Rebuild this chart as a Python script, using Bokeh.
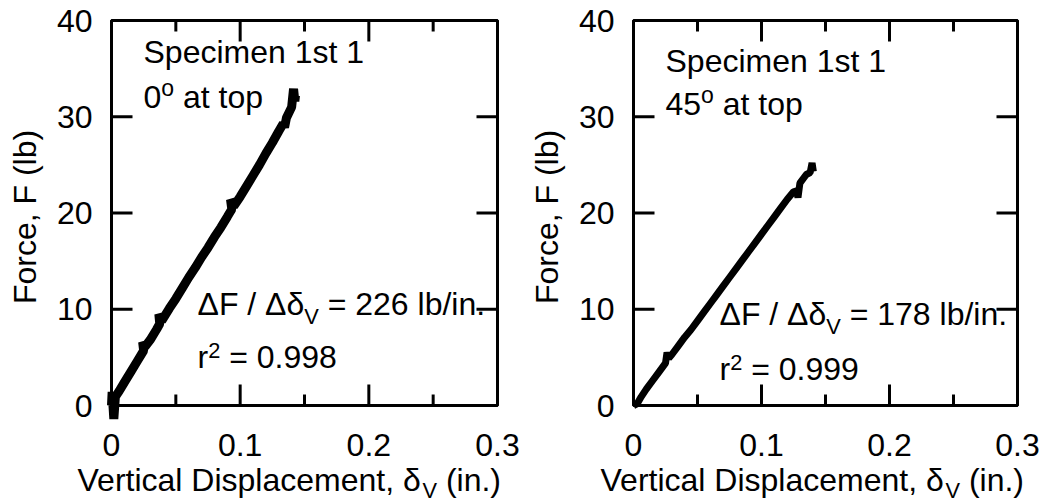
import math
from bokeh.plotting import figure
from bokeh.models import Range1d, Label
from bokeh.layouts import row
from bokeh.core.properties import value
from bokeh.embed import file_html
from bokeh.resources import INLINE

# ---------------- data ----------------
left_disp = [0.000, 0.0005, 0.0018, 0.003, 0.006, 0.010, 0.015, 0.020, 0.025, 0.0242,
             0.026, 0.030, 0.035, 0.0375, 0.0368, 0.039, 0.045, 0.050, 0.055, 0.060,
             0.065, 0.070, 0.075, 0.080, 0.085, 0.090, 0.0935, 0.0925, 0.095, 0.100,
             0.105, 0.110, 0.115, 0.120, 0.125, 0.130, 0.1335, 0.1345, 0.136, 0.140,
             0.1415, 0.1425, 0.1430]
left_force = [0.0, 1.4, -1.4, 0.9, 1.5, 2.4, 3.5, 4.6, 5.7, 6.6,
              6.1, 6.8, 7.9, 8.5, 9.5, 8.8, 10.1, 11.1, 12.2, 13.3,
              14.3, 15.4, 16.4, 17.5, 18.5, 19.6, 20.4, 21.4, 20.7, 21.7,
              22.8, 23.9, 25.0, 26.2, 27.3, 28.5, 29.3, 28.9, 29.9, 31.0,
              32.9, 31.6, 32.2]

right_disp = [0.000, 0.003, 0.006, 0.010, 0.015, 0.020, 0.025, 0.0262, 0.0275, 0.030,
              0.035, 0.040, 0.045, 0.050, 0.055, 0.060, 0.065, 0.070, 0.075, 0.080,
              0.085, 0.090, 0.095, 0.100, 0.105, 0.110, 0.115, 0.120, 0.125, 0.1275,
              0.1285, 0.130, 0.135, 0.138, 0.1395, 0.1405]
right_force = [0.0, 0.2, 0.9, 1.7, 2.6, 3.5, 4.4, 5.5, 4.9, 5.3,
               6.2, 7.1, 7.9, 8.8, 9.7, 10.6, 11.5, 12.4, 13.3, 14.2,
               15.1, 16.0, 16.9, 17.8, 18.7, 19.6, 20.5, 21.4, 22.2, 22.3,
               21.6, 23.1, 24.0, 24.2, 25.2, 24.3]

x_ticks = [0, 0.1, 0.2, 0.3]
x_tick_labels = ["0", "0.1", "0.2", "0.3"]
x_minor_ticks = [0.05, 0.15, 0.25]
y_ticks = [0, 10, 20, 30, 40]
y_tick_labels = ["0", "10", "20", "30", "40"]

x_label = ["Vertical Displacement, δ", "V", " (in.)"]
y_label = "Force, F (lb)"
left_texts = ["Specimen 1st 1", "0", "226", "0.998"]
right_texts = ["Specimen 1st 1", "45", "178", "0.999"]

FONT = "Liberation Sans"
FS = 32

# Arial / Liberation Sans advance widths (per 1000 em)
W = {' ': 278, '(': 333, ')': 333, ',': 278, '.': 278, '/': 278, '=': 584,
     'D': 722, 'F': 611, 'S': 667, 'V': 667, 'a': 556, 'b': 556, 'c': 500,
     'e': 556, 'i': 222, 'l': 222, 'm': 833, 'n': 556, 'o': 556, 'p': 556,
     'r': 333, 's': 500, 't': 278, 'Δ': 668, 'δ': 556}
for d in "0123456789":
    W[d] = 556


def text_width(s, size):
    return sum(W.get(c, 556) for c in s) * size / 1000.0


def make_fig(disp, force, bl, fw, br, texts, lw, pos, xlab_dx):
    bt, bb = 20, 99
    fh = 385
    xmin, xmax = x_ticks[0], x_ticks[-1]
    ymin, ymax = y_ticks[0], y_ticks[-1]
    sx = fw / (xmax - xmin)
    sy = fh / (ymax - ymin)
    p = figure(width=bl + fw + br, height=bt + fh + bb, output_backend="svg",
               toolbar_location=None, title=None,
               x_range=Range1d(xmin - bl / sx, xmax + br / sx),
               y_range=Range1d(ymin - bb / sy, ymax + bt / sy),
               x_axis_location=None, y_axis_location=None,
               min_border=0)
    p.xgrid.visible = False
    p.ygrid.visible = False
    p.outline_line_color = None
    p.background_fill_color = "white"
    p.border_fill_color = "white"

    X = lambda px: xmin + px / sx          # px from frame left
    Y = lambda px: ymax - px / sy          # px from frame top

    # ticks (inward, all four sides)
    maj, mnr = 21, 11
    nx, nm, ny = len(x_ticks), len(x_minor_ticks), len(y_ticks)
    p.segment(x0=x_ticks, x1=x_ticks, y0=[ymin] * nx, y1=[ymin + maj / sy] * nx,
              line_color="black", line_width=3)
    p.segment(x0=x_ticks, x1=x_ticks, y0=[ymax] * nx, y1=[ymax - maj / sy] * nx,
              line_color="black", line_width=3)
    p.segment(x0=x_minor_ticks, x1=x_minor_ticks, y0=[ymin] * nm, y1=[ymin + mnr / sy] * nm,
              line_color="black", line_width=3)
    p.segment(x0=x_minor_ticks, x1=x_minor_ticks, y0=[ymax] * nm, y1=[ymax - mnr / sy] * nm,
              line_color="black", line_width=3)
    p.segment(x0=[xmin] * ny, x1=[xmin + maj / sx] * ny, y0=y_ticks, y1=y_ticks,
              line_color="black", line_width=3)
    p.segment(x0=[xmax] * ny, x1=[xmax - maj / sx] * ny, y0=y_ticks, y1=y_ticks,
              line_color="black", line_width=3)
    # frame
    p.quad(left=[xmin], right=[xmax], bottom=[ymin], top=[ymax],
           fill_color=None, line_color="black", line_width=3)

    # tick labels
    p.text(x=x_ticks, y=[Y(fh + 39)] * nx, text=x_tick_labels,
           text_font=value(FONT), text_font_size=f"{FS}px", text_color="black",
           text_align="center", text_baseline="middle")
    p.text(x=[X(-19)] * ny, y=y_ticks, text=y_tick_labels,
           text_font=value(FONT), text_font_size=f"{FS}px", text_color="black",
           text_align="right", text_baseline="middle")

    # y axis label (rotated)
    p.add_layout(Label(x=X(-87), y=Y(fh / 2 + 4), text=y_label, angle=math.pi / 2,
                       text_font=FONT, text_font_size=f"{FS}px", text_color="black",
                       text_align="center", text_baseline="middle"))

    # data trace
    p.line(disp, force, line_color="black", line_width=lw)

    def rich(dx, base, segs):
        cur = dx
        for txt, scale, shift in segs:
            size = FS * scale
            stripped = txt.lstrip(" ")
            cur += text_width(txt[:len(txt) - len(stripped)], size)
            mid = base - shift - 0.36 * size
            p.add_layout(Label(x=X(cur), y=Y(mid), text=stripped,
                               text_font=FONT, text_font_size=f"{size:.1f}px",
                               text_color="black", text_baseline="middle",
                               text_align="left"))
            cur += text_width(stripped, size)

    spec, ang, slope, r2 = texts
    rich(32, pos[0], [(spec, 1, 0)])
    rich(32, pos[1], [(ang, 1, 0), ("o", 0.72, 12), (" at top", 1, 0)])
    rich(86, pos[2], [("ΔF / Δδ", 1, 0), ("V", 0.68, -9), (f" = {slope} lb/in.", 1, 0)])
    rich(86, pos[3], [("r", 1, 0), ("2", 0.68, 10), (f" = {r2}", 1, 0)])
    rich(xlab_dx, 471, [(x_label[0], 1, 0), (x_label[1], 0.68, -7), (x_label[2], 1, 0)])
    return p


p1 = make_fig(left_disp, left_force, 111, 386, 23, left_texts, 9, [43, 88, 295, 348], -34)
p2 = make_fig(right_disp, right_force, 113, 384, 26, right_texts, 7, [52, 95, 305, 360], -33)

layout = row(p1, p2)
open("out.html", "w").write(file_html(layout, INLINE))
